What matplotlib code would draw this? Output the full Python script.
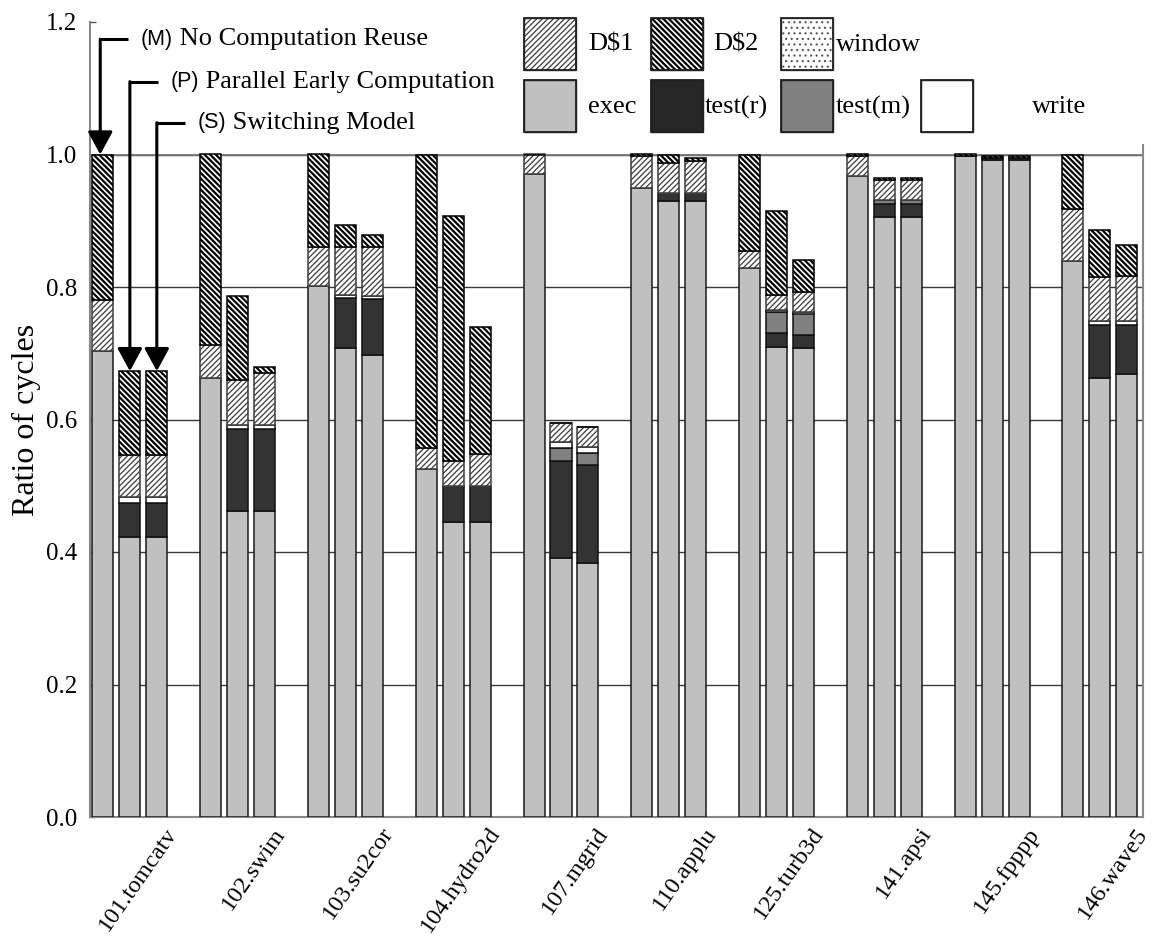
import matplotlib
matplotlib.use("Agg")
import matplotlib.pyplot as plt
from matplotlib.patches import Rectangle
import numpy as np

# ---------------- data ----------------
benchmarks = ["101.tomcatv", "102.swim", "103.su2cor", "104.hydro2d", "107.mgrid",
              "110.applu", "125.turb3d", "141.apsi", "145.fpppp", "146.wave5"]
models = ["M", "P", "S"]
# segment values, per benchmark: [M, P, S]
exec_v  = [[0.703, 0.422, 0.422], [0.663, 0.462, 0.462], [0.801, 0.708, 0.698],
           [0.526, 0.445, 0.445], [0.970, 0.391, 0.383], [0.949, 0.930, 0.930],
           [0.829, 0.710, 0.708], [0.968, 0.905, 0.905], [0.997, 0.991, 0.991],
           [0.840, 0.663, 0.668]]
test_r  = [[0.0, 0.052, 0.052], [0.0, 0.124, 0.124], [0.0, 0.076, 0.084],
           [0.0, 0.054, 0.054], [0.0, 0.147, 0.148], [0.0, 0.012, 0.012],
           [0.0, 0.020, 0.019], [0.0, 0.021, 0.021], [0.0, 0.004, 0.004],
           [0.0, 0.079, 0.074]]
test_m  = [[0.0, 0.0, 0.0], [0.0, 0.0, 0.0], [0.0, 0.0, 0.0],
           [0.0, 0.0, 0.0], [0.0, 0.019, 0.019], [0.0, 0.0, 0.0],
           [0.0, 0.032, 0.033], [0.0, 0.006, 0.006], [0.0, 0.0, 0.0],
           [0.0, 0.0, 0.0]]
write_v = [[0.0, 0.009, 0.009], [0.0, 0.006, 0.006], [0.0, 0.004, 0.005],
           [0.0, 0.0, 0.0], [0.0, 0.009, 0.009], [0.0, 0.0, 0.0],
           [0.0, 0.004, 0.002], [0.0, 0.0, 0.0], [0.0, 0.0, 0.0],
           [0.0, 0.007, 0.007]]
window_v = [[0.0, 0.0, 0.0]] * 10
dc1     = [[0.078, 0.064, 0.064], [0.050, 0.067, 0.078], [0.060, 0.073, 0.074],
           [0.031, 0.039, 0.049], [0.030, 0.029, 0.029], [0.048, 0.045, 0.048],
           [0.025, 0.022, 0.031], [0.029, 0.029, 0.029], [0.0, 0.0, 0.0],
           [0.078, 0.066, 0.067]]
dc2     = [[0.219, 0.126, 0.126], [0.287, 0.128, 0.010], [0.139, 0.032, 0.018],
           [0.443, 0.369, 0.191], [0.0, 0.0, 0.0], [0.003, 0.012, 0.004],
           [0.146, 0.126, 0.047], [0.003, 0.003, 0.003], [0.003, 0.003, 0.003],
           [0.082, 0.071, 0.048]]
yticks = [0.0, 0.2, 0.4, 0.6, 0.8, 1.0, 1.2]
annot_labels = [("(M)", " No Computation Reuse"),
                ("(P)", " Parallel Early Computation"),
                ("(S)", " Switching Model")]

# ---------------- style ----------------
SERIF = ["Liberation Serif", "DejaVu Serif"]
SANS = ["Liberation Sans", "DejaVu Sans"]
plt.rcParams["font.family"] = SERIF

segments = [
    ("exec",    exec_v,   dict(facecolor="#c0c0c0", edgecolor="#1a1a1a", hatch=None), 1.0),
    ("test(r)", test_r,   dict(facecolor="#333333", edgecolor="#111111", hatch=None), 1.0),
    ("test(m)", test_m,   dict(facecolor="#808080", edgecolor="#111111", hatch=None), 1.0),
    ("write",   write_v,  dict(facecolor="white",   edgecolor="#111111", hatch=None), 1.0),
    ("window",  window_v, dict(facecolor="white",   edgecolor="#555555", hatch="..."), 0.8),
    ("D$1",     dc1,      dict(facecolor="white",   edgecolor="#3c3c3c", hatch="//////"), 0.9),
    ("D$2",     dc2,      dict(facecolor="white",   edgecolor="#000000", hatch="\\\\\\\\\\\\"), 1.6),
]

fig = plt.figure(figsize=(11.68, 9.42), dpi=100)
ax = fig.add_axes([90 / 1168, 125 / 942, 1053 / 1168, 795 / 942])

n_b = len(benchmarks)
xs = np.array([g * 4 + j for g in range(n_b) for j in range(3)], dtype=float)
bottom = np.zeros(len(xs))
for name, vals, st, hlw in segments:
    h = np.array(vals, dtype=float).ravel()
    with plt.rc_context({"hatch.linewidth": hlw}):
        bars = ax.bar(xs, h, width=0.78, bottom=bottom, linewidth=1.1,
                      zorder=3, **st)
    for b in bars:
        try:
            b.set_hatch_linewidth(hlw)
        except Exception:
            pass
    bottom = bottom + h
totals = bottom

ax.set_xlim(-0.48, 38.56)
ax.set_ylim(0, 1.2)
ax.set_yticks(yticks)
ax.set_yticklabels([f"{v:.1f}" for v in yticks], fontsize=18)
ax.tick_params(axis="y", direction="in", length=4, width=1, color="#555555", pad=9)
ax.set_xticks([g * 4 + 2.6 for g in range(n_b)])
ax.set_xticklabels(benchmarks, rotation=55, ha="right", va="center",
                   rotation_mode="anchor", fontsize=17.5)
ax.tick_params(axis="x", length=0, pad=9)
for v in yticks[1:-1]:
    ax.axhline(v, color="#3a3a3a", lw=1.0, zorder=1)
ax.axhline(1.0, color="#777777", lw=1.3, zorder=1)
ax.spines["top"].set_visible(False)
for s in ("left", "bottom", "right"):
    ax.spines[s].set_color("#888888")
    ax.spines[s].set_linewidth(1.5)
ax.spines["right"].set_bounds(0, 1.015)
ax.set_ylabel("Ratio of cycles", fontsize=23, labelpad=4)

# ---------------- annotations (arrows) ----------------
levels = [1.174, 1.110, 1.048]
for j, ((tag, rest), yl) in enumerate(zip(annot_labels, levels)):
    xb = xs[j] - (0.1 if j == 0 else 0.0)
    ax.plot([xb, xb + 1.03], [yl, yl], color="black", lw=2.2, zorder=5,
            clip_on=False, solid_capstyle="butt")
    ax.annotate("", xy=(xb, totals[j]), xytext=(xb, yl),
                arrowprops=dict(arrowstyle="-|>,head_length=0.7,head_width=0.38",
                                mutation_scale=20, color="black", lw=2.2,
                                shrinkA=0, shrinkB=0), zorder=6)
    t = ax.text(xb + 1.5, yl, tag, fontsize=15.5, family=SANS, va="center",
                ha="left", zorder=6)
    ax.annotate(rest, xy=(1.0, 0.5), xycoords=t, va="center", ha="left",
                fontsize=19, family=SERIF)

# ---------------- legend (manual, pixel layout) ----------------
lax = fig.add_axes([0, 0, 1, 1], facecolor="none")
lax.set_xlim(0, 1168)
lax.set_ylim(942, 0)
lax.axis("off")
seg_by_name = {s[0]: s for s in segments}
legend_layout = [
    ("D$1", 524, 18, 588), ("D$2", 651, 18, 713), ("window", 781, 18, 836),
    ("exec", 524, 80, 588), ("test(r)", 651, 80, 705), ("test(m)", 781, 80, 836),
    ("write", 921, 80, 1032),
]
for name, x0, y0, tx in legend_layout:
    _, _, st, hlw = seg_by_name[name]
    fc = st["facecolor"]
    if name == "test(r)":
        fc = "#262626"
    with plt.rc_context({"hatch.linewidth": hlw}):
        r = Rectangle((x0, y0), 52, 52, facecolor=fc,
                      edgecolor=st["edgecolor"], hatch=st["hatch"], lw=1.0)
    try:
        r.set_hatch_linewidth(hlw)
    except Exception:
        pass
    lax.add_patch(r)
    lax.add_patch(Rectangle((x0, y0), 52, 52, facecolor="none",
                            edgecolor="#222222", lw=1.3))
    lax.text(tx, y0 + 27, name, fontsize=19, va="center", ha="left")

fig.savefig("out.png", dpi=100)
